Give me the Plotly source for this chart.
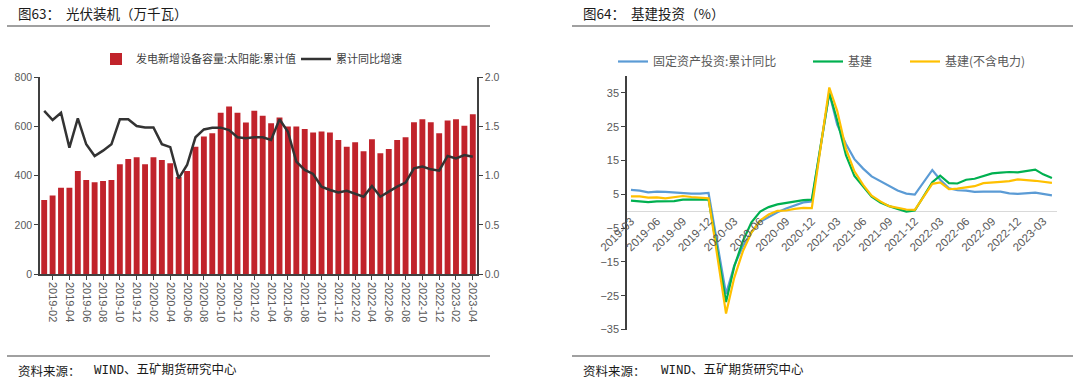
import plotly.graph_objects as go

W, H = 1080, 386

# ---------------- Left chart data: 光伏装机 ----------------
pv_months = [f"{y}-{m:02d}" for y in range(2019, 2024) for m in range(1, 13)][:52]
pv_capacity = [301, 319, 351, 351, 419, 382, 373, 378, 382, 446, 468, 475,
               446, 475, 464, 450, 395, 419, 518, 559, 572, 656, 681, 656,
               616, 664, 644, 613, 636, 600, 600, 590, 576, 580, 576, 545,
               518, 536, 499, 548, 491, 508, 545, 556, 617, 629, 617, 572,
               624, 629, 603, 650]
pv_growth = [1.658, 1.566, 1.64, 1.285, 1.583, 1.319, 1.2, 1.254, 1.319, 1.573, 1.573, 1.505,
             1.49, 1.49, 1.32, 1.29, 0.973, 1.108, 1.39, 1.47, 1.488, 1.488, 1.464, 1.39,
             1.38, 1.39, 1.39, 1.363, 1.573, 1.447, 1.142, 1.058, 1.017, 0.888, 0.854, 0.83,
             0.847, 0.813, 0.786, 0.895, 0.786, 0.837, 0.888, 0.929, 1.075, 1.092, 1.064, 1.051,
             1.2, 1.176, 1.21, 1.193]
pv_ticks = [m for m in pv_months if int(m[-2:]) % 2 == 0]

# ---------------- Right chart data: 基建投资 ----------------
inv_dates = ([f"2019-{m:02d}-01" for m in range(3, 13)] +
             [f"{y}-{m:02d}-01" for y in (2020, 2021, 2022) for m in range(2, 13)] +
             [f"2023-{m:02d}-01" for m in range(2, 5)])
fai = [6.3, 6.1, 5.6, 5.8, 5.7, 5.5, 5.4, 5.2, 5.2, 5.4,
       -24.5, -16.1, -10.3, -6.3, -3.1, -1.6, -0.3, 0.8, 1.8, 2.6, 2.9,
       35.0, 25.6, 19.9, 15.4, 12.6, 10.3, 8.9, 7.3, 6.1, 5.2, 4.9,
       12.2, 9.3, 6.8, 6.2, 6.1, 5.7, 5.8, 5.9, 5.8, 5.3, 5.1,
       5.5, 5.1, 4.7]
infra = [3.1, 3.0, 2.7, 2.9, 3.0, 3.0, 3.4, 3.5, 3.5, 3.5,
         -26.9, -16.4, -8.8, -3.3, -0.1, 1.2, 2.0, 2.4, 3.0, 3.3, 3.4,
         35.0, 26.9, 16.6, 10.4, 7.2, 4.3, 2.6, 1.5, 0.7, -0.1, 0.2,
         8.6, 10.5, 8.3, 8.2, 9.3, 9.6, 10.4, 11.2, 11.4, 11.6, 11.5,
         12.3, 10.9, 9.8]
infra_ex_power = [4.4, 4.4, 4.0, 4.1, 3.8, 4.2, 4.5, 4.2, 4.0, 3.8,
                  -30.3, -19.7, -11.8, -6.3, -2.7, -1.0, 0.1, 0.2, 0.7, 1.0, 0.9,
                  36.6, 29.7, 18.4, 11.8, 7.8, 4.6, 2.9, 1.5, 1.0, 0.5, 0.4,
                  8.1, 8.5, 6.5, 6.7, 7.1, 7.4, 8.3, 8.6, 8.7, 8.9, 9.4,
                  9.0, 8.8, 8.4]
y3_ticks = [-35, -25, -15, -5, 5, 15, 25, 35]

FONT = "Liberation Sans, Noto Sans CJK SC, sans-serif"
CJK = "Noto Sans CJK SC, sans-serif"
AX = "#404040"
TXT = "#595959"

def px(x):
    return x / W

def py(y):
    return 1 - y / H

fig = go.Figure()
fig.add_trace(go.Bar(x=pv_months, y=pv_capacity, name="发电新增设备容量:太阳能:累计值",
                     marker=dict(color="#C1232B", line=dict(width=0)), showlegend=True,
                     xaxis="x", yaxis="y", legend="legend"))
fig.add_trace(go.Scatter(x=pv_months, y=pv_growth, name="累计同比增速", mode="lines",
                         line=dict(color="#333333", width=2.5), showlegend=True,
                         xaxis="x", yaxis="y2", legend="legend2"))
fig.add_trace(go.Scatter(x=inv_dates, y=fai, name="固定资产投资:累计同比", mode="lines",
                         line=dict(color="#5B9BD5", width=2.2), showlegend=True,
                         xaxis="x2", yaxis="y3", legend="legend3"))
fig.add_trace(go.Scatter(x=inv_dates, y=infra, name="基建", mode="lines",
                         line=dict(color="#00B050", width=2.2), showlegend=True,
                         xaxis="x2", yaxis="y3", legend="legend4"))
fig.add_trace(go.Scatter(x=inv_dates, y=infra_ex_power, name="基建(不含电力)", mode="lines",
                         line=dict(color="#FFC000", width=2.2), showlegend=True,
                         xaxis="x2", yaxis="y3", legend="legend5"))

def leg(x, y, size, color):
    return dict(x=px(x), y=py(y), xanchor="left", yanchor="middle", orientation="h",
                bgcolor="rgba(0,0,0,0)", font=dict(size=size, color=color, family=CJK),
                itemwidth=30)

zero_pos = py(211.3)

fig.update_layout(
    width=W, height=H, margin=dict(l=0, r=0, t=0, b=0, autoexpand=False),
    showlegend=True,
    paper_bgcolor="white", plot_bgcolor="rgba(0,0,0,0)",
    font=dict(family=FONT, color=TXT),
    bargap=0.3,
    legend=leg(96, 59, 11, AX),
    legend2=leg(296, 59, 11, AX),
    legend3=leg(613, 61.5, 12, TXT),
    legend4=leg(808, 61.5, 12, TXT),
    legend5=leg(905, 61.5, 12, TXT),
    xaxis=dict(domain=[px(40), px(477)], type="category", range=[-0.5, 51.5],
               tickmode="array", tickvals=pv_ticks, ticktext=pv_ticks, tickangle=90,
               ticks="outside", ticklen=4, tickcolor=AX, showline=True, linecolor=AX,
               linewidth=1.5, showgrid=False, tickfont=dict(size=11, color=TXT), anchor="y"),
    yaxis=dict(domain=[py(274), py(77.3)], range=[0, 800], dtick=200, showgrid=False,
               showline=True, linecolor=AX, linewidth=1.5, ticks="outside", ticklen=4,
               tickcolor=AX, zeroline=False, tickfont=dict(size=10.5, color=TXT), anchor="x"),
    yaxis2=dict(overlaying="y", side="right", range=[0, 2], dtick=0.5, tickformat=".1f",
                showgrid=False, showline=True, linecolor=AX, linewidth=1.5, ticks="outside",
                ticklen=4, tickcolor=AX, zeroline=False, tickfont=dict(size=10.5, color=TXT),
                anchor="x"),
    xaxis2=dict(domain=[px(627), px(1057)], type="date",
                range=["2019-02-15", "2023-04-19"], anchor="free", position=zero_pos,
                tickformat="%Y-%m", dtick="M3", tick0="2019-03-01", tickangle=-45,
                showline=False, ticks="", showgrid=False,
                tickfont=dict(size=11.5, color=TXT)),
    yaxis3=dict(domain=[py(329.5), py(76)], range=[-35, 40], anchor="x2",
                tickmode="array", tickvals=y3_ticks, showgrid=False,
                showline=True, linecolor=AX, linewidth=1.5, ticks="outside", ticklen=4,
                tickcolor=AX, zeroline=True, zerolinecolor="#D9D9D9", zerolinewidth=1,
                tickfont=dict(size=11, color=TXT)),
)

# separator lines
for (x0, x1) in [(7, 490), (572, 1073)]:
    for yy in (26, 356):
        fig.add_shape(type="line", xref="paper", yref="paper",
                      x0=px(x0), x1=px(x1), y0=py(yy), y1=py(yy),
                      line=dict(color="#808080", width=1.6))

def note(text, x, y, size, color="#1a1a1a", family=CJK):
    fig.add_annotation(text=text, x=px(x), y=py(y), xref="paper", yref="paper",
                       xanchor="left", yanchor="middle", showarrow=False,
                       font=dict(size=size, color=color, family=family))

note("图63：", 16, 12.5, 13.5)
note("光伏装机（万千瓦）", 64, 12.5, 13.5)
note("图64：", 581, 12.5, 13.5)
note("基建投资（%）", 629, 12.5, 13.5)
for x0, x1 in [(16, 92), (581, 659)]:
    note("资料来源：", x0, 370, 12.5)
    note("WIND、五矿期货研究中心", x1, 370, 12.5, family="Liberation Mono, Noto Sans CJK SC, monospace")

fig.write_html("out.html", config={"displayModeBar": False},
               post_script="document.body.style.margin='0';document.body.style.overflow='hidden';")
